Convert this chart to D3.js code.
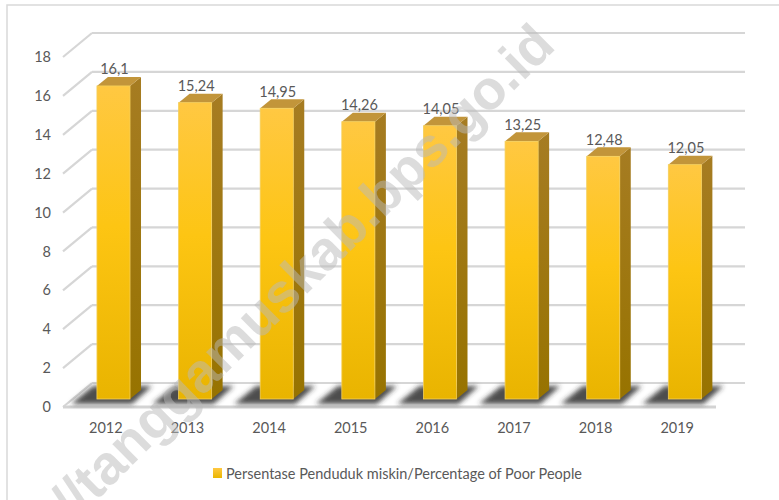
<!DOCTYPE html>
<html>
<head>
<meta charset="utf-8">
<script src="https://cdn.jsdelivr.net/npm/d3@7/dist/d3.min.js"></script>
<style>
  html, body { margin: 0; padding: 0; background: #fff; }
  svg { display: block; }
  text { font-family: Lato, "Open Sans", sans-serif; fill: #595959; }
</style>
</head>
<body>
<svg id="chart" width="779" height="500"></svg>
<script>
// Poverty rate by year (percent)
const years = ["2012", "2013", "2014", "2015", "2016", "2017", "2018", "2019"];
const values = [16.1, 15.24, 14.95, 14.26, 14.05, 13.25, 12.48, 12.05];
const valueLabels = ["16,1", "15,24", "14,95", "14,26", "14,05", "13,25", "12,48", "12,05"];
const yTicks = [0, 2, 4, 6, 8, 10, 12, 14, 16, 18];
const seriesName = "Persentase Penduduk miskin/Percentage of Poor People";
const watermark = "//tanggamuskab.bps.go.id";

const svg = d3.select("#chart");
const W = 779, H = 500;
const FS = 14.5;

// 3D layout: back wall plane, floor depth offset toward viewer
const wall = { left: 92, right: 745, top: 33, bottom: 383 };
const depth = { dx: -29, dy: 24 };              // back wall -> front edge
const face = { dx: depth.dx * 2 / 3, dy: depth.dy * 2 / 3 }; // bar front plane
const barDepth = { dx: 11, dy: -9 };

const y = d3.scaleLinear().domain([0, 18]).range([wall.bottom, wall.top]);
const x = d3.scaleBand().domain(years).range([wall.left, wall.right]);

const defs = svg.append("defs");
const gFront = defs.append("linearGradient").attr("id", "front").attr("x1", 0).attr("y1", 0).attr("x2", 0).attr("y2", 1);
gFront.append("stop").attr("offset", "0%").attr("stop-color", "#ffc842");
gFront.append("stop").attr("offset", "45%").attr("stop-color", "#fdc513");
gFront.append("stop").attr("offset", "100%").attr("stop-color", "#e9b400");
const gSide = defs.append("linearGradient").attr("id", "side").attr("x1", 0).attr("y1", 0).attr("x2", 0).attr("y2", 1);
gSide.append("stop").attr("offset", "0%").attr("stop-color", "#a67c22");
gSide.append("stop").attr("offset", "100%").attr("stop-color", "#977300");
const gLeg = defs.append("linearGradient").attr("id", "leg").attr("x1", 0).attr("y1", 0).attr("x2", 0).attr("y2", 1);
gLeg.append("stop").attr("offset", "0%").attr("stop-color", "#ffc842");
gLeg.append("stop").attr("offset", "100%").attr("stop-color", "#eab600");
defs.append("filter").attr("id", "blur").attr("x", "-30%").attr("y", "-50%").attr("width", "160%").attr("height", "200%")
  .append("feGaussianBlur").attr("stdDeviation", 2.8);

// outer frame
svg.append("rect").attr("x", 7).attr("y", 5).attr("width", W + 20).attr("height", H + 20)
  .attr("fill", "none").attr("stroke", "#d9d9d9").attr("stroke-width", 1.5);

// back wall gridlines and left wall diagonals
const grid = svg.append("g");
yTicks.forEach(v => {
  const yy = y(v);
  grid.append("line").attr("x1", wall.left).attr("x2", wall.right).attr("y1", yy).attr("y2", yy)
    .attr("stroke", "#d6d6d6").attr("stroke-width", 2.2);
  grid.append("line").attr("x1", wall.left).attr("y1", yy)
    .attr("x2", wall.left + depth.dx).attr("y2", yy + depth.dy)
    .attr("stroke", "#d6d6d6").attr("stroke-width", 2.2);
});
// floor front edge
svg.append("line").attr("x1", wall.left + depth.dx).attr("x2", wall.right + depth.dx)
  .attr("y1", y(0) + depth.dy).attr("y2", y(0) + depth.dy)
  .attr("stroke", "#d3d3d3").attr("stroke-width", 3);

// bar geometry helper
function bar(d, i) {
  const bw = x.bandwidth() * 0.405;
  const cx = x(d) + x.bandwidth() / 2 + face.dx;
  const x0 = cx - bw / 2, x1 = cx + bw / 2;
  const yT = y(values[i]) + face.dy, yB = y(0) + face.dy;
  return { cx, x0, x1, yT, yB };
}

// floor shadows cast toward the front-left
const shadows = svg.append("g").attr("filter", "url(#blur)");
years.forEach((d, i) => {
  const b = bar(d, i);
  const top = y(0) + 3, bot = y(0) + depth.dy - 3;
  shadows.append("polygon")
    .attr("points", [[b.x0 - 4, top], [b.x1 + 22, top], [b.x1 + 2, bot], [b.x0 - 26, bot]].join(" "))
    .attr("fill", "#2e2e2e").attr("opacity", 0.85);
});

// bars
const bars = svg.append("g");
years.forEach((d, i) => {
  const b = bar(d, i);
  const g = bars.append("g");
  g.append("polygon")
    .attr("points", [[b.x1, b.yT], [b.x1 + barDepth.dx, b.yT + barDepth.dy], [b.x1 + barDepth.dx, b.yB + barDepth.dy], [b.x1, b.yB]].join(" "))
    .attr("fill", "url(#side)");
  g.append("polygon")
    .attr("points", [[b.x0, b.yT], [b.x0 + barDepth.dx, b.yT + barDepth.dy], [b.x1 + barDepth.dx, b.yT + barDepth.dy], [b.x1, b.yT]].join(" "))
    .attr("fill", "#c2953a");
  g.append("rect").attr("x", b.x0).attr("y", b.yT).attr("width", b.x1 - b.x0).attr("height", b.yB - b.yT)
    .attr("fill", "url(#front)").attr("stroke", "#f4cf5a").attr("stroke-width", 0.8);
  // value label
  svg.append("text").attr("x", b.cx + 1).attr("y", b.yT - 17)
    .attr("text-anchor", "middle").attr("dominant-baseline", "central")
    .attr("font-size", FS).text(valueLabels[i]);
});

// value axis labels, placed on the front plane
const yFront = y.copy().range([wall.bottom + depth.dy, wall.top + depth.dy]);
const yAxis = svg.append("g").attr("transform", "translate(51,0)")
  .call(d3.axisLeft(yFront).tickValues(yTicks).tickSize(0).tickPadding(0).tickFormat(d3.format("d")));
yAxis.select(".domain").remove();
yAxis.selectAll("text").attr("font-size", FS).attr("fill", "#595959").style("font-family", "Lato, sans-serif");

// category axis labels
const xFront = x.copy().range([wall.left - 27, wall.right - 27]);
const xAxis = svg.append("g").attr("transform", "translate(0,423)")
  .call(d3.axisBottom(xFront).tickSize(0).tickPadding(0));
xAxis.select(".domain").remove();
xAxis.selectAll("text").attr("font-size", FS).attr("fill", "#595959").style("font-family", "Lato, sans-serif");

// legend
const leg = svg.append("g").attr("transform", "translate(213,468)");
leg.append("rect").attr("width", 9).attr("height", 10).attr("fill", "url(#leg)");
leg.append("text").attr("x", 13).attr("y", 5).attr("dominant-baseline", "central")
  .attr("font-size", FS).text(seriesName);

// site watermark
svg.append("text")
  .attr("transform", "translate(302,272) rotate(-44.5)")
  .attr("text-anchor", "middle").attr("dominant-baseline", "central")
  .style("font-family", "'Liberation Sans', Arial, sans-serif")
  .style("font-weight", "bold").style("font-size", "55px")
  .style("fill", "rgba(185,185,185,0.5)")
  .text(watermark);
</script>
</body>
</html>
